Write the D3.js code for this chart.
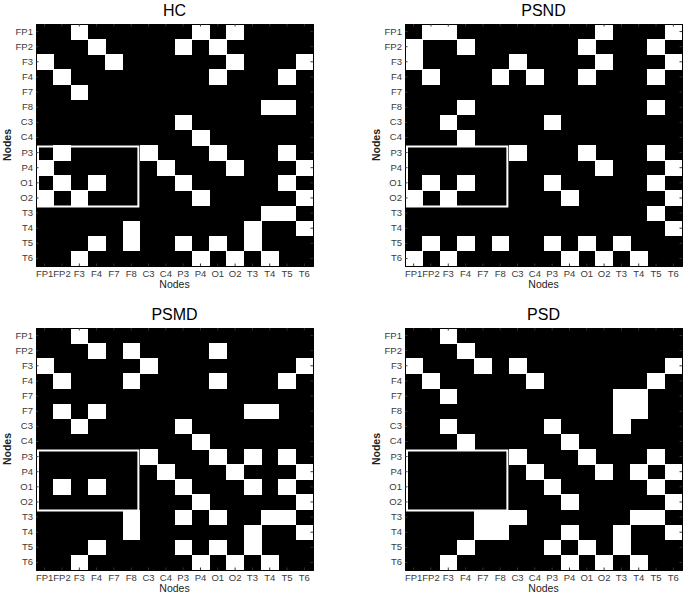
<!DOCTYPE html>
<html><head><meta charset="utf-8">
<script src="https://cdn.jsdelivr.net/npm/d3@7"></script>
<style>
html,body{margin:0;padding:0;background:#fff;}
svg{display:block;}
</style></head>
<body>
<svg id="chart" width="686" height="596"></svg>
<script>
// ---- data ----
const nodes = ["FP1","FP2","F3","F4","F7","F8","C3","C4","P3","P4","O1","O2","T3","T4","T5","T6"];
// PSMD panel in the original labels its 6th row "F7" (as printed)
const nodesPSMDRows = ["FP1","FP2","F3","F4","F7","F7","C3","C4","P3","P4","O1","O2","T3","T4","T5","T6"];
const titles = ["HC","PSND","PSMD","PSD"];
// each row: column indices of connected (white) cells
const hcRows = [[2,9,11],[3,8,10],[0,4,11,15],[1,10,14],[2],[13,14],[8],[9],
  [1,6,10,14],[0,7,11,15],[1,3,8,14],[0,2,9,15],[13,14],[5,12,15],[3,5,8,10,12],[2,9,11,13]];
const psndRows = [[1,2,11,15],[0,3,10,14],[0,6,11,15],[1,5,7,10,14],[],[3,14],[2,8],[3],
  [6,10,14],[11,15],[1,3,8,14],[0,2,9,15],[14],[15],[1,3,5,8,10,12],[0,2,9,11,13]];
const psmdRows = [[2],[3,5,10],[0,6,15],[1,5,10,14],[],[1,3,12,13],[2,8],[9],
  [6,10,12,14],[7,11,15],[1,3,8,12,14],[9,15],[5,8,10,13,14],[5,12,15],[3,8,10,12],[2,9,11,13]];
const psdRows = [[2],[3],[0,4,6,15],[1,7,14],[2,12,13],[12,13],[2,8,12],[3,9],
  [6,10,14],[7,11,13,15],[8,14],[9,15],[4,5,6,13,14],[4,5,9,12,15],[3,8,10,12],[2,9,11,13]];
// highlighted block: rows P3..O2, columns FP1..F8
const boxRowRange = [8, 11];
const boxColRange = [0, 5];

// ---- layout ----
const panels = [
  {title: titles[0], rows: hcRows,   rowLabels: nodes,         x0: 36,  y0: 24},
  {title: titles[1], rows: psndRows, rowLabels: nodes,         x0: 405, y0: 24},
  {title: titles[2], rows: psmdRows, rowLabels: nodesPSMDRows, x0: 36,  y0: 328},
  {title: titles[3], rows: psdRows,  rowLabels: nodes,         x0: 405, y0: 328}
];
const W = 277, H = 242;
const font = "'Liberation Sans', Arial, sans-serif";
const svg = d3.select("#chart");

panels.forEach(p => {
  const g = svg.append("g").attr("transform", `translate(${p.x0},${p.y0})`);
  const idx = d3.range(nodes.length);
  const x = d3.scaleBand().domain(idx).range([0, W]).padding(0);
  const y = d3.scaleBand().domain(idx).range([0, H]).padding(0);

  g.append("rect").attr("width", W).attr("height", H).attr("fill", "#000");

  const cells = [];
  p.rows.forEach((cols, r) => cols.forEach(c => cells.push({r, c})));
  g.append("g").attr("shape-rendering", "crispEdges")
    .selectAll("rect").data(cells).join("rect")
    .attr("x", d => x(d.c)).attr("y", d => y(d.r))
    .attr("width", x.bandwidth() + 0.5).attr("height", y.bandwidth() + 0.5)
    .attr("fill", "#fff");

  // highlight box
  const bx0 = x(boxColRange[0]) + 2, bx1 = x(boxColRange[1]) + x.bandwidth() - 1.5;
  const by0 = y(boxRowRange[0]) + 1.5, by1 = y(boxRowRange[1]) + y.bandwidth() + 1;
  g.append("rect").attr("x", bx0).attr("y", by0)
    .attr("width", bx1 - bx0).attr("height", by1 - by0)
    .attr("fill", "none").attr("stroke", "#fff").attr("stroke-width", 2);

  // axes
  const axB = d3.axisBottom(x).tickSize(-2.5).tickPadding(4).tickFormat(i => nodes[i]);
  const axL = d3.axisLeft(y).tickSize(-2.5).tickPadding(3).tickFormat(i => p.rowLabels[i]);
  const axT = d3.axisTop(x).tickSize(-2.5).tickFormat("");
  const axR = d3.axisRight(y).tickSize(-2.5).tickFormat("");
  const style = sel => {
    sel.select(".domain").attr("stroke", "#000");
    sel.selectAll(".tick line").attr("stroke", "#333");
    sel.selectAll(".tick text").attr("fill", "#3a3a3a")
      .style("font-family", font).style("font-size", "9.5px");
  };
  g.append("g").attr("transform", `translate(0,${H})`).call(axB).call(style);
  g.append("g").call(axL).call(style);
  g.append("g").call(axT).call(style);
  g.append("g").attr("transform", `translate(${W},0)`).call(axR).call(style);

  // title
  g.append("text").attr("x", W / 2).attr("y", -8.5).attr("text-anchor", "middle")
    .style("font-family", font).style("font-size", "16px").style("font-weight", "normal")
    .attr("fill", "#000")
    .text(p.title);
  // axis labels
  g.append("text").attr("x", W / 2).attr("y", H + 22).attr("text-anchor", "middle")
    .style("font-family", font).style("font-size", "10.5px").attr("fill", "#222")
    .text("Nodes");
  g.append("text").attr("transform", `translate(-25,${H / 2}) rotate(-90)`)
    .attr("text-anchor", "middle")
    .style("font-family", font).style("font-size", "10.5px").style("font-weight", "bold").attr("fill", "#222")
    .text("Nodes");
});
</script>
</body></html>
